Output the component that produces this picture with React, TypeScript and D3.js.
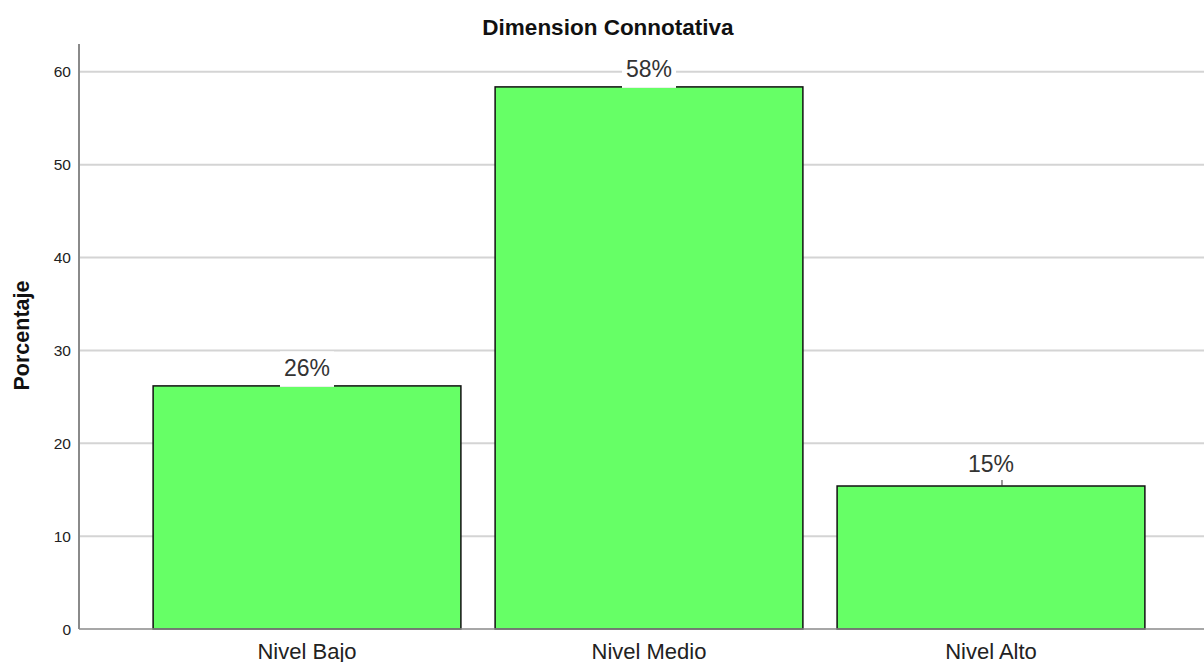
import * as d3 from "d3";

const categories = ["Nivel Bajo", "Nivel Medio", "Nivel Alto"];
const values = [26.18, 58.38, 15.4];
const valueLabels = ["26%", "58%", "15%"];
const yTicks = [0, 10, 20, 30, 40, 50, 60];

const WIDTH = 1204;
const HEIGHT = 662;
const LEFT = 79;
const TOP = 44;
const BOTTOM = 629;
const FONT = "'Liberation Sans', Arial, sans-serif";
const BAR_FILL = "#66ff66";
const GRID = "#d4d4d4";
const AXIS = "#8a8a8a";

export default function App() {
  const x = d3.scaleBand<string>().domain(categories).range([LEFT, 1219]).paddingInner(0.1).paddingOuter(0.2167);
  const y = d3.scaleLinear().domain([0, 63]).range([BOTTOM, TOP]);

  return (
    <svg width={WIDTH} height={HEIGHT} style={{ position: "absolute", left: 0, top: 0 }} fontFamily={FONT}>
      <rect width={WIDTH} height={HEIGHT} fill="#fff" />
      <text x={608} y={35} textAnchor="middle" fontSize="22.5" fontWeight="700" fill="#111">
        Dimension Connotativa
      </text>

      {yTicks.slice(1).map((t) => (
        <line key={t} x1={LEFT} x2={WIDTH} y1={y(t)} y2={y(t)} stroke={GRID} strokeWidth="2" />
      ))}

      {categories.map((c, i) => (
        <rect
          key={c}
          x={x(c)}
          y={y(values[i])}
          width={x.bandwidth()}
          height={BOTTOM - y(values[i])}
          fill={BAR_FILL}
          stroke="#111"
          strokeWidth="1.5"
        />
      ))}

      <line x1={LEFT} x2={WIDTH} y1={BOTTOM} y2={BOTTOM} stroke={AXIS} strokeWidth="1.5" />
      <line x1={LEFT} x2={LEFT} y1={TOP} y2={BOTTOM} stroke={AXIS} strokeWidth="2" />

      {yTicks.map((t) => (
        <text key={t} x={LEFT - 8} y={y(t)} dy="0.36em" textAnchor="end" fontSize="15.5" fill="#222">
          {t}
        </text>
      ))}

      {categories.map((c, i) => {
        const cx = (x(c) ?? 0) + x.bandwidth() / 2;
        const top = y(values[i]);
        const leader = i === 2;
        const cy = top - (leader ? 22.5 : 18.5);
        return (
          <g key={`lab-${c}`}>
            {leader ? (
              <line x1={cx + 11} x2={cx + 11} y1={top} y2={top - 6} stroke="#333" strokeWidth="1" />
            ) : (
              <rect x={cx - 27} y={cy - 16} width={54} height={top - cy + 17} fill="#fff" />
            )}
            <text x={cx} y={cy} dy="0.36em" textAnchor="middle" fontSize="23" fill="#333">
              {valueLabels[i]}
            </text>
          </g>
        );
      })}

      {categories.map((c) => (
        <text key={`cat-${c}`} x={(x(c) ?? 0) + x.bandwidth() / 2} y={659} textAnchor="middle" fontSize="22" fill="#222">
          {c}
        </text>
      ))}

      <text transform="translate(29 335.5) rotate(-90)" textAnchor="middle" fontSize="21.5" fontWeight="700" fill="#111">
        Porcentaje
      </text>
    </svg>
  );
}
